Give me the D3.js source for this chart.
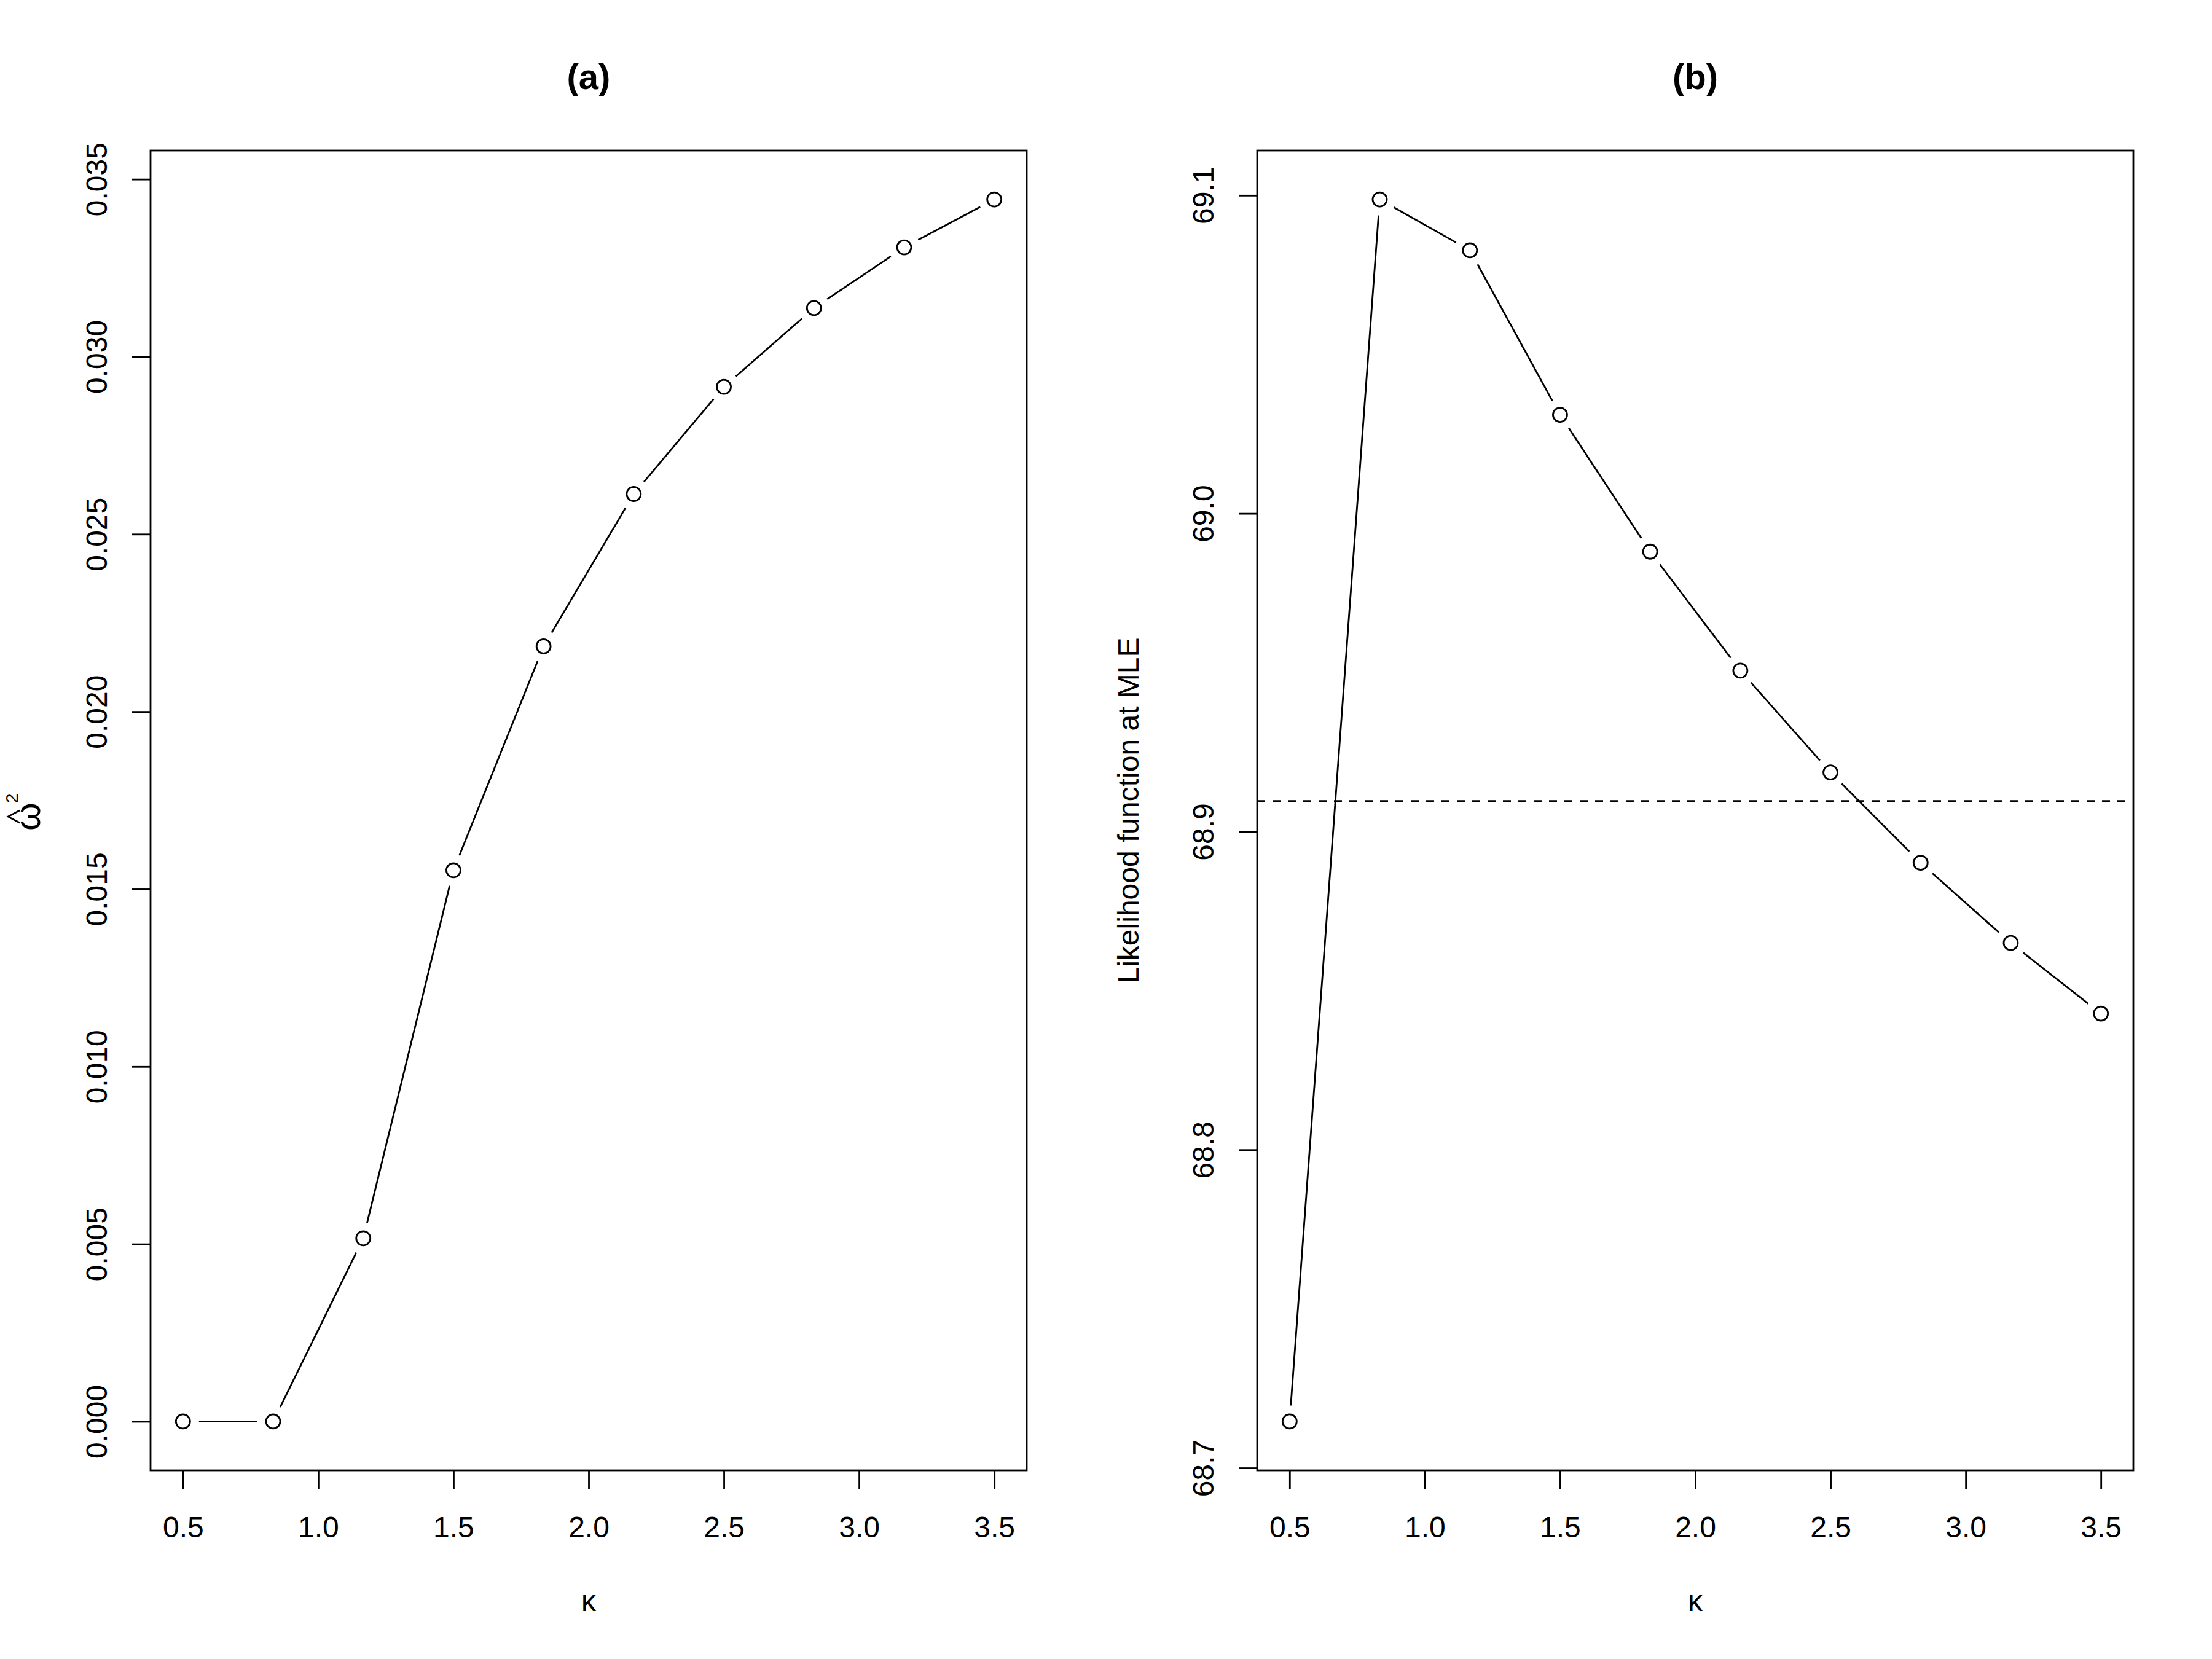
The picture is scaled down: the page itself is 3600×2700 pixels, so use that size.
<!DOCTYPE html>
<html>
<head>
<meta charset="utf-8">
<script src="https://cdn.jsdelivr.net/npm/d3@7"></script>
<style>
  body { margin: 0; background: #fff; }
  svg text { font-family: "Liberation Sans", Arial, Helvetica, sans-serif; fill: #000; }
</style>
</head>
<body>
<svg id="chart" width="3600" height="2700"></svg>
<script>
// data
var kappa = [0.5, 0.8333, 1.1667, 1.5, 1.8333, 2.1667, 2.5, 2.8333, 3.1667, 3.5];
var omega2 = [0, 0, 0.00516, 0.01553, 0.02184, 0.02613, 0.02915, 0.03137, 0.03308, 0.03443];
var loglik = [68.7146, 69.0987, 69.0827, 69.031, 68.988, 68.9506, 68.9186, 68.8902, 68.865, 68.8428];
var cutoff = 68.9096;

var xTicks = [0.5, 1.0, 1.5, 2.0, 2.5, 3.0, 3.5];
var yTicksA = [0, 0.005, 0.010, 0.015, 0.020, 0.025, 0.030, 0.035];
var yTicksB = [68.7, 68.8, 68.9, 69.0, 69.1];

var svg = d3.select("#chart");
svg.append("rect").attr("width", 3600).attr("height", 2700).attr("fill", "#fff");

var lw = 2.8, fs = 48;

// R-style range: data extent padded by 4%
function rdom(v) {
  var e = d3.extent(v), d = (e[1] - e[0]) * 0.04;
  return [e[0] - d, e[1] + d];
}

function panel(left, ys, yTicks, yFmt, title) {
  var top = 245, bottom = 2393, right = left + 1426;
  var x = d3.scaleLinear().domain(rdom(kappa)).range([left, right]);
  var y = d3.scaleLinear().domain(rdom(ys)).range([bottom, top]);
  var g = svg.append("g");

  // x axis
  var xa = g.append("g").attr("transform", "translate(0," + bottom + ")")
    .call(d3.axisBottom(x).tickValues(xTicks).tickSize(30).tickPadding(0).tickFormat(d3.format(".1f")));
  xa.select(".domain").remove();
  xa.selectAll("line").attr("stroke", "#000").attr("stroke-width", lw);
  xa.selectAll("text").attr("font-size", fs).attr("dy", 0).attr("y", 109)
    .attr("font-family", "Liberation Sans, Arial, sans-serif");

  // y axis (labels parallel to axis)
  var ya = g.append("g").attr("transform", "translate(" + left + ",0)")
    .call(d3.axisLeft(y).tickValues(yTicks).tickSize(30).tickFormat(d3.format(yFmt)));
  ya.select(".domain").remove();
  ya.selectAll("line").attr("stroke", "#000").attr("stroke-width", lw);
  ya.selectAll("text").attr("font-size", fs).attr("x", null).attr("dy", null)
    .attr("text-anchor", "middle")
    .attr("font-family", "Liberation Sans, Arial, sans-serif")
    .attr("transform", "translate(-71,0) rotate(-90)");

  // box
  g.append("rect").attr("x", left).attr("y", top).attr("width", right - left).attr("height", bottom - top)
    .attr("fill", "none").attr("stroke", "#000").attr("stroke-width", lw);

  // lines with gaps around points (type = "b")
  var gap = 26;
  for (var i = 0; i < kappa.length - 1; i++) {
    var x0 = x(kappa[i]), y0 = y(ys[i]), x1 = x(kappa[i + 1]), y1 = y(ys[i + 1]);
    var len = Math.hypot(x1 - x0, y1 - y0);
    if (len <= 2 * gap) continue;
    var ux = (x1 - x0) / len, uy = (y1 - y0) / len;
    g.append("line")
      .attr("x1", x0 + ux * gap).attr("y1", y0 + uy * gap)
      .attr("x2", x1 - ux * gap).attr("y2", y1 - uy * gap)
      .attr("stroke", "#000").attr("stroke-width", lw);
  }
  g.selectAll("circle.pt").data(kappa).enter().append("circle")
    .attr("class", "pt")
    .attr("cx", function(d) { return x(d); })
    .attr("cy", function(d, i) { return y(ys[i]); })
    .attr("r", 11.5).attr("fill", "none").attr("stroke", "#000").attr("stroke-width", lw);

  // title and x label
  g.append("text").attr("x", (left + right) / 2).attr("y", 145).attr("text-anchor", "middle")
    .attr("font-size", 58).attr("font-weight", "bold").text(title);
  g.append("text").attr("x", (left + right) / 2).attr("y", 2622).attr("text-anchor", "middle")
    .attr("font-size", fs).text("κ");

  return {g: g, x: x, y: y, left: left, right: right, top: top, bottom: bottom};
}

var pa = panel(245, omega2, yTicksA, ".3f", "(a)");
var pb = panel(2046, loglik, yTicksB, ".1f", "(b)");

// y label (a): omega hat squared
var lab = pa.g.append("g").attr("transform", "translate(" + (pa.left - 180) + "," + ((pa.top + pa.bottom) / 2 + 10) + ") rotate(-90)");
lab.append("text").attr("text-anchor", "middle").attr("font-size", 58).text("ω");
lab.append("path").attr("d", "M-10,-33 L0,-52 L10,-33").attr("fill", "none")
  .attr("stroke", "#000").attr("stroke-width", 2.6);
lab.append("text").attr("x", 22).attr("y", -36).attr("font-size", 28).text("2");

// y label (b)
pb.g.append("text").attr("text-anchor", "middle").attr("font-size", fs)
  .attr("transform", "translate(" + (pb.left - 193) + "," + ((pb.top + pb.bottom) / 2) + ") rotate(-90)")
  .text("Likelihood function at MLE");

// dashed cut-off line
pb.g.append("line")
  .attr("x1", pb.left).attr("x2", pb.right)
  .attr("y1", pb.y(cutoff)).attr("y2", pb.y(cutoff))
  .attr("stroke", "#000").attr("stroke-width", lw).attr("stroke-dasharray", "13,12");
</script>
</body>
</html>
